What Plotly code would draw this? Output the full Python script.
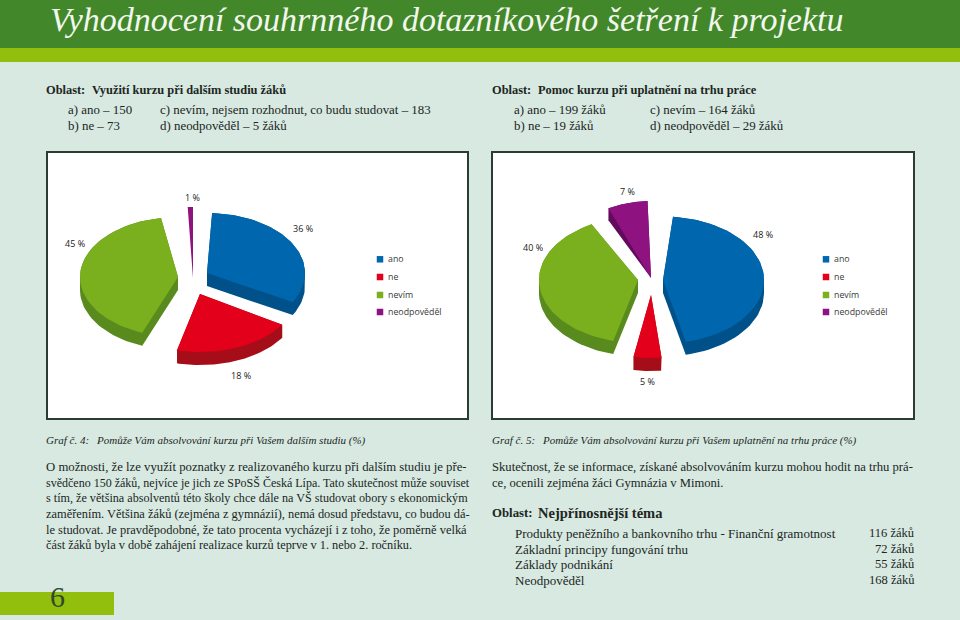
import numpy as np
import plotly.graph_objects as go

# ---------- data ----------
CATEGORIES = ["ano", "ne", "nevím", "neodpověděl"]
GRAF4_PCT = [36, 18, 45, 1]
GRAF5_PCT = [48, 5, 40, 7]

TITLE = "Vyhodnocení souhrnného dotazníkového šetření k projektu"
OBLAST_LABEL = "Oblast:"
HEAD_L = "Využití kurzu při dalším studiu žáků"
HEAD_R = "Pomoc kurzu při uplatnění na trhu práce"
HEAD_T = "Nejpřínosnější téma"
ANS_L_A = ["a) ano – 150", "b) ne – 73"]
ANS_L_B = ["c) nevím, nejsem rozhodnut, co budu studovat – 183", "d) neodpověděl – 5 žáků"]
ANS_R_A = ["a) ano – 199 žáků", "b) ne – 19 žáků"]
ANS_R_B = ["c) nevím – 164 žáků", "d) neodpověděl – 29 žáků"]
CAP_L = ["Graf č. 4:", "Pomůže Vám absolvování kurzu při Vašem dalším studiu (%)"]
CAP_R = ["Graf č. 5:", "Pomůže Vám absolvování kurzu při Vašem uplatnění na trhu práce (%)"]
BODY_L = [
    "O možnosti, že lze využít poznatky z realizovaného kurzu při dalším studiu je pře-",
    "svědčeno 150 žáků, nejvíce je jich ze SPoSŠ Česká Lípa. Tato skutečnost může souviset",
    "s tím, že většina absolventů této školy chce dále na VŠ studovat obory s ekonomickým",
    "zaměřením. Většina žáků (zejména z gymnázií), nemá dosud představu, co budou dá-",
    "le studovat. Je pravděpodobné, že tato procenta vycházejí i z toho, že poměrně velká",
    "část žáků byla v době zahájení realizace kurzů teprve v 1. nebo 2. ročníku.",
]
BODY_R = [
    "Skutečnost, že se informace, získané absolvováním kurzu mohou hodit na trhu prá-",
    "ce, ocenili zejména žáci Gymnázia v Mimoni.",
]
TOPICS = [
    "Produkty peněžního a bankovního trhu - Finanční gramotnost",
    "Základní principy fungování trhu",
    "Základy podnikání",
    "Neodpověděl",
]
TOPIC_COUNTS = [116, 72, 55, 168]
PAGE_NO = "6"

# ---------- style / layout ----------
BG = "#d7e9e0"
DARK_GREEN = "#42872a"
LIGHT_GREEN = "#92bf0e"
BORDER = "#2c3b35"
INK = "#20261f"
TOP_COL = ["#0066ad", "#e2001a", "#7ab01e", "#8e1280"]
SIDE_COL = ["#00508a", "#a50d18", "#598a1e", "#640a5c"]
SERIF = "Liberation Serif"
SANS = "Open Sans"
BODY_L_SIZES = [12.75, 12.0, 12.15, 12.4, 12.45, 12.3]
BODY_R_SIZES = [12.65, 12.6]

# per-slice placement of the exploded 3D pie: tip x, y, rx, ry, depth, pinch-tip,
# and perspective correction of start/end angle (degrees)
START4, START5 = -3.0, 0.0
GEOM4 = [
    (207, 273, 98, 60, 13, False, 6.0, -7.6),
    (200, 294, 97, 58, 13, False, -4.6, 2.3),
    (178, 277, 98, 60, 13, False, 10.0, -3.4),
    (193, 278, 98, 71, 0, True, 3.5, 3.0),
]
GEOM5 = [
    (663, 280, 101, 63.5, 13, False, 5.7, -5.8),
    (651, 295, 101, 63, 13, False, 1.2, -0.8),
    (638, 280, 99, 63, 13, False, 3.7, -2.8),
    (651, 278, 100, 77, 12, True, 0.0, -2.0),
]
LABELS4 = [(303, 228), (241, 375), (75, 243), (192, 197)]
LABELS5 = [(763, 234), (647, 381), (533, 247), (627, 191)]
LEG_Y = [259.3, 277, 295, 312]
LEG4_X, LEG5_X = 380, 826


def hull(pts):
    pts = sorted(set(map(tuple, np.round(pts, 3))))
    def half(seq):
        out = []
        for p in seq:
            while len(out) >= 2 and ((out[-1][0]-out[-2][0])*(p[1]-out[-2][1]) -
                                     (out[-1][1]-out[-2][1])*(p[0]-out[-2][0])) <= 0:
                out.pop()
            out.append(p)
        return out
    lo, up = half(pts), half(pts[::-1])
    h = lo[:-1] + up[:-1]
    h.append(h[0])
    return np.array(h)


def pie(values, start, geom):
    traces = []
    cum = start
    for v, g, top, side in zip(values, geom, TOP_COL, SIDE_COL):
        x0, y0, rx, ry, depth, pinch, d0, d1 = g
        a0, a1 = cum + d0, cum + v * 3.6 + d1
        cum += v * 3.6
        t = np.radians(np.linspace(a0, a1, 60))
        ax, ay = x0 + rx * np.sin(t), y0 - ry * np.cos(t)
        wx, wy = np.r_[x0, ax, x0], np.r_[y0, ay, y0]
        if depth > 0:
            pts = np.c_[np.r_[x0, ax, ax], np.r_[y0, ay, ay + depth]]
            if not pinch:
                pts = np.vstack([pts, [x0, y0 + depth]])
            h = hull(pts)
            traces.append(go.Scatter(x=h[:, 0], y=h[:, 1], mode="lines", fill="toself",
                                     fillcolor=side, line=dict(width=0, color=side),
                                     hoverinfo="skip", showlegend=False))
        traces.append(go.Scatter(x=wx, y=wy, mode="lines", fill="toself", fillcolor=top,
                                 line=dict(width=0, color=top), hoverinfo="skip",
                                 showlegend=False))
    return traces


fig = go.Figure()
for tr in pie(GRAF4_PCT, START4, GEOM4) + pie(GRAF5_PCT, START5, GEOM5):
    fig.add_trace(tr)

anns = []


def txt(x, y, s, size=12.5, family=SERIF, color=INK, anchor="left", bold=False, italic=False):
    if bold:
        s = f"<b>{s}</b>"
    if italic:
        s = f"<i>{s}</i>"
    shift = {"left": -2, "right": 3, "center": 0}[anchor]
    anns.append(dict(x=x, y=y, xref="x", yref="y", text=s, showarrow=False, xanchor=anchor,
                     yanchor="middle", align=anchor, xshift=shift,
                     font=dict(family=family, size=size, color=color)))


# legends
for lx in (LEG4_X, LEG5_X):
    for name, col, ly in zip(CATEGORIES, TOP_COL, LEG_Y):
        fig.add_trace(go.Scatter(x=[lx], y=[ly], mode="markers",
                                 marker=dict(symbol="square", size=6.5, color=col),
                                 hoverinfo="skip", showlegend=False))
        txt(lx + 8, ly, name, size=8.8, family=SANS, color="#3a3a3a")

shapes = [
    dict(type="rect", x0=0, x1=960, y0=0, y1=48, fillcolor=DARK_GREEN, line_width=0, layer="below"),
    dict(type="rect", x0=0, x1=960, y0=48, y1=62, fillcolor=LIGHT_GREEN, line_width=0, layer="below"),
    dict(type="rect", x0=0, x1=114, y0=592, y1=615, fillcolor=LIGHT_GREEN, line_width=0, layer="below"),
    dict(type="rect", x0=47, x1=468, y0=152, y1=419, fillcolor="white",
         line=dict(color=BORDER, width=2), layer="below"),
    dict(type="rect", x0=492, x1=914, y0=152, y1=419, fillcolor="white",
         line=dict(color=BORDER, width=2), layer="below"),
]

txt(50, 19, TITLE, size=34, color="#f2f7ee", italic=True)
txt(46, 90, OBLAST_LABEL, size=12.4, bold=True)
txt(92, 90, HEAD_L, size=12.4, bold=True)
txt(492, 90, OBLAST_LABEL, size=12.4, bold=True)
txt(538, 90, HEAD_R, size=12.4, bold=True)
for i, y in enumerate((110, 126)):
    txt(68, y, ANS_L_A[i], size=12.9)
    txt(160, y, ANS_L_B[i], size=12.9)
    txt(514, y, ANS_R_A[i], size=12.9)
    txt(650, y, ANS_R_B[i], size=12.9)

for vals, pos in ((GRAF4_PCT, LABELS4), (GRAF5_PCT, LABELS5)):
    for v, (x, y) in zip(vals, pos):
        txt(x, y, f"{v} %", size=9, family=SANS, color="#222", anchor="center")

txt(46, 440, CAP_L[0], size=11, italic=True)
txt(96, 440, CAP_L[1], size=11, italic=True)
txt(492, 440, CAP_R[0], size=11, italic=True)
txt(542, 440, CAP_R[1], size=11, italic=True)

for s, y, sz in zip(BODY_L, (467, 483, 498, 514, 530, 545), BODY_L_SIZES):
    txt(46, y, s, size=sz)
for s, y, sz in zip(BODY_R, (467, 483), BODY_R_SIZES):
    txt(492, y, s, size=sz)
txt(492, 513, OBLAST_LABEL, size=12.8, bold=True)
txt(538, 513, HEAD_T, size=14.5, bold=True)
for s, n, y in zip(TOPICS, TOPIC_COUNTS, (533, 549, 564, 580)):
    txt(515, y, s, size=13)
    txt(914, y, f"{n} žáků", size=12.5, anchor="right")
txt(57, 596, PAGE_NO, size=30, color="#2f4a2c", anchor="center")

fig.update_layout(
    width=960, height=620, margin=dict(l=0, r=0, t=0, b=0),
    paper_bgcolor=BG, plot_bgcolor=BG, showlegend=False,
    xaxis=dict(range=[0, 960], visible=False, fixedrange=True),
    yaxis=dict(range=[620, 0], visible=False, fixedrange=True),
    shapes=shapes, annotations=anns,
)
fig.write_html("out.html", config=dict(displayModeBar=False),
               post_script="document.body.style.margin='0';document.documentElement.style.background='#d7e9e0';")
